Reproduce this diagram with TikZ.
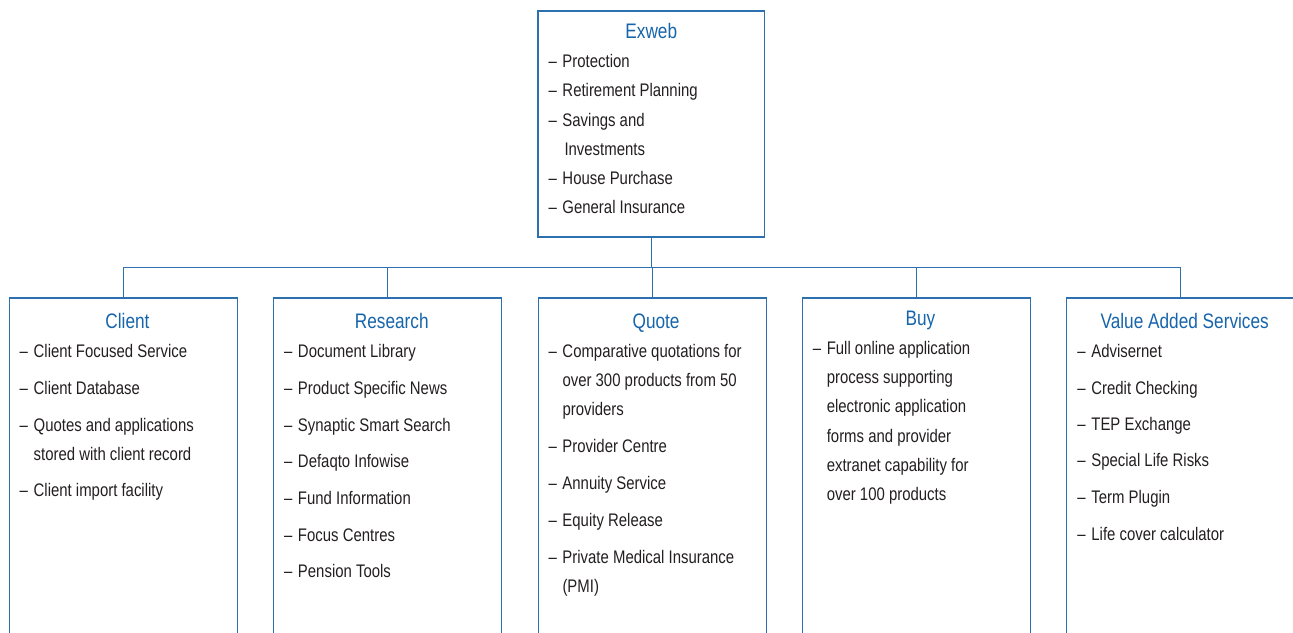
\documentclass[tikz,border=0pt]{standalone}
\usepackage{fontspec}
\setmainfont[FakeStretch=0.82]{Liberation Sans}
\usetikzlibrary{calc}
\definecolor{exblue}{RGB}{22,100,170}
\definecolor{exline}{RGB}{45,112,176}
\definecolor{extext}{RGB}{35,31,32}
\newcommand{\itm}{\makebox[14pt][l]{\textendash}}
\newcommand{\cnt}{\hspace*{14pt}}

\begin{document}
\begin{tikzpicture}[x=1pt, y=-1pt,
  box/.style={draw=exline, line width=1.2pt, inner sep=0pt, minimum width=228, minimum height=400},
  title/.style={anchor=base, text=exblue, inner sep=0pt, font=\fontsize{21}{25}\selectfont},
  item/.style={anchor=base west, text=extext, inner sep=0pt, font=\fontsize{18.2}{22}\selectfont},
  link/.style={draw=exline, line width=1.2pt}]
  \useasboundingbox (0,0) rectangle (1293,632);
  \clip (0,0) rectangle (1293,632);

  % boxes
  \node[box, minimum width=226.7, minimum height=226] (exweb) at (651.3,124) {};
  \node[box] (client) at (123.5,498) {};
  \node[box] (research) at (387.8,498) {};
  \node[box] (quote) at (652.1,498) {};
  \node[box] (buy) at (916.4,498) {};
  \node[box] (vas) at (1180.7,498) {};

  % connectors
  \coordinate (bus) at (651.3,267.7);
  \draw[link] (exweb.south) -- (bus);
  \draw[link] (client.north) -- (client.north |- bus) -- (vas.north |- bus) -- (vas.north);
  \foreach \n in {research,quote,buy}
    \draw[link] (\n.north) -- (\n.north |- bus);

  % titles
  \node[title] (exweb-t) at (651.3,38.3) {Exweb};
  \node[title] (client-t) at (127.5,328.3) {Client};
  \node[title] (research-t) at (391.8,328.3) {Research};
  \node[title] (quote-t) at (656.1,328.3) {Quote};
  \node[title] (buy-t) at (920.4,325) {Buy};
  \node[title] (vas-t) at (1184.7,328.3) {Value Added Services};

  % lists
  \foreach \y/\t [count=\i] in {67.7/{\itm Protection}, 96.7/{\itm Retirement Planning},
      126/{\itm Savings and}, 155/{\cnt\hspace{2pt}Investments}, 184.3/{\itm House Purchase},
      213.3/{\itm General Insurance}}
    \node[item] (exweb-\i) at (548.3,\y) {\t};
  \foreach \y/\t [count=\i] in {357.7/{\itm Client Focused Service}, 394.3/{\itm Client Database},
      431/{\itm Quotes and applications}, 460.7/{\cnt stored with client record},
      496.7/{\itm Client import facility}}
    \node[item] (client-\i) at (19.5,\y) {\t};
  \foreach \y/\t [count=\i] in {357.7/{\itm Document Library}, 394.3/{\itm Product Specific News},
      431/{\itm Synaptic Smart Search}, 467.7/{\itm Defaqto Infowise},
      504.3/{\itm Fund Information}, 541/{\itm Focus Centres}, 577.7/{\itm Pension Tools}}
    \node[item] (research-\i) at (283.8,\y) {\t};
  \foreach \y/\t [count=\i] in {357.7/{\itm Comparative quotations for}, 386.7/{\cnt over 300 products from 50},
      415/{\cnt providers}, 452.3/{\itm Provider Centre}, 489/{\itm Annuity Service},
      526/{\itm Equity Release}, 563.3/{\itm Private Medical Insurance}, 592.7/{\cnt (PMI)}}
    \node[item] (quote-\i) at (548.3,\y) {\t};
  \foreach \y/\t [count=\i] in {354.3/{\itm Full online application}, 383.5/{\cnt process supporting},
      412.7/{\cnt electronic application}, 442.3/{\cnt forms and provider},
      471.7/{\cnt extranet capability for}, 500.7/{\cnt over 100 products}}
    \node[item] (buy-\i) at (812.6,\y) {\t};
  \foreach \y/\t [count=\i] in {357.7/{\itm Advisernet}, 394/{\itm Credit Checking},
      430/{\itm TEP Exchange}, 466.7/{\itm Special Life Risks}, 503.3/{\itm Term Plugin},
      540/{\itm Life cover calculator}}
    \node[item] (vas-\i) at (1077.2,\y) {\t};
\end{tikzpicture}
\end{document}
